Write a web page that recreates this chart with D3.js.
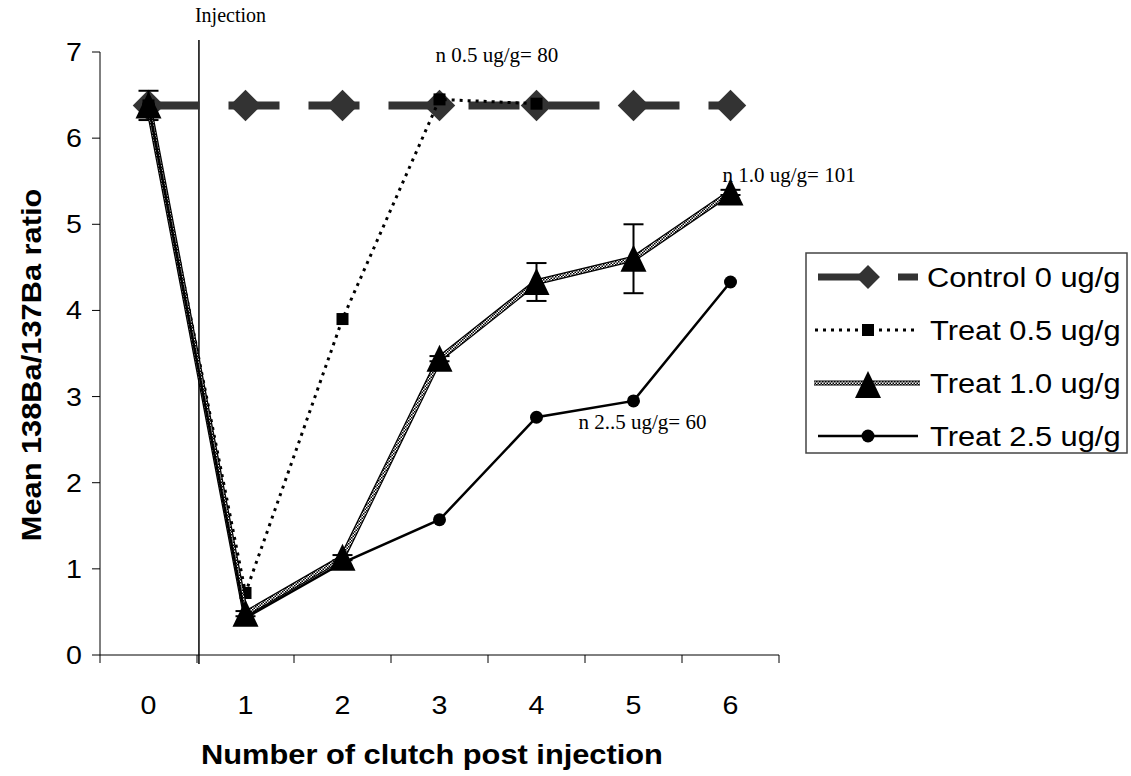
<!DOCTYPE html>
<html>
<head>
<meta charset="utf-8">
<script src="https://d3js.org/d3.v7.min.js"></script>
<style>
	body { margin: 0; background: #fff; }
	text { font-family: "Liberation Sans", Arial, sans-serif; }
	.serif { font-family: "Liberation Serif", "Times New Roman", serif; }
</style>
</head>
<body>
<div id="content"></div>
<script>

// clutch numbers and series
var clutches = [0, 1, 2, 3, 4, 5, 6];
var control = [6.38, 6.38, 6.38, 6.38, 6.38, 6.38, 6.38];
var treat05 = [6.38, 0.72, 3.9, 6.45, 6.4, null, null];
var treat10 = [6.38, 0.48, 1.13, 3.44, 4.33, 4.6, 5.37];
var treat10Err = [0.17, 0.03, 0.03, 0.03, 0.22, 0.4, 0.03];
var treat25 = [6.38, 0.43, 1.07, 1.57, 2.76, 2.95, 4.33];
var yTicks = [0, 1, 2, 3, 4, 5, 6, 7];
var seriesNames = ["Control 0 ug/g", "Treat 0.5 ug/g", "Treat 1.0 ug/g", "Treat 2.5 ug/g"];
var notes = [
	{ text: "n 0.5 ug/g= 80", clutch: 3, value: 6.45 },
	{ text: "n 1.0 ug/g= 101", clutch: 6, value: 5.37 },
	{ text: "n 2..5 ug/g= 60", clutch: 4, value: 2.76 }
];

function main() {
	var { svg, width, height } = initSVG();

	var x = d3.scaleLinear().domain([-0.5, 6.5]).range([100, 779]);
	var y = d3.scaleLinear().domain([0, 7]).range([655, 52]);

	drawAxes(svg, x, y);

	// injection marker between clutch 0 and 1
	svg.append("line")
		.attr("x1", x(0.52)).attr("x2", x(0.52))
		.attr("y1", 40).attr("y2", y(0) + 9)
		.attr("stroke", "#000").attr("stroke-width", 1.5);
	svg.append("text")
		.attr("class", "serif")
		.attr("x", x(0.52) - 4).attr("y", 22)
		.attr("font-size", 20)
		.text("Injection");

	var line = d3.line()
		.defined(function (d) { return d != null; })
		.x(function (d, i) { return x(clutches[i]); })
		.y(function (d) { return y(d); });

	// Control
	svg.append("path")
		.attr("d", line(control))
		.attr("fill", "none")
		.attr("stroke", "#333")
		.attr("stroke-width", 8)
		.attr("stroke-dasharray", "51,29");
	svg.append("g").selectAll("path")
		.data(control)
		.enter().append("path")
		.attr("d", d3.symbol(d3.symbolDiamond2, 300)())
		.attr("transform", function (d, i) { return "translate(" + x(clutches[i]) + "," + y(d) + ") scale(1.45,1.45)"; })
		.attr("fill", "#333");

	// Treat 0.5
	svg.append("path")
		.attr("d", line(treat05))
		.attr("fill", "none")
		.attr("stroke", "#000")
		.attr("stroke-width", 3)
		.attr("stroke-dasharray", "3,5");
	svg.append("g").selectAll("rect")
		.data(treat05.filter(function (d) { return d != null; }))
		.enter().append("rect")
		.attr("x", function (d, i) { return x(clutches[i]) - 6; })
		.attr("y", function (d) { return y(d) - 6; })
		.attr("width", 12).attr("height", 12)
		.attr("fill", "#000");

	// Treat 1.0 error bars
	var errG = svg.append("g").attr("stroke", "#000").attr("stroke-width", 2);
	treat10.forEach(function (d, i) {
		var cx = x(clutches[i]);
		var top = y(d + treat10Err[i]), bot = y(d - treat10Err[i]);
		errG.append("line").attr("x1", cx).attr("x2", cx).attr("y1", top).attr("y2", bot);
		errG.append("line").attr("x1", cx - 10).attr("x2", cx + 10).attr("y1", top).attr("y2", top);
		errG.append("line").attr("x1", cx - 10).attr("x2", cx + 10).attr("y1", bot).attr("y2", bot);
	});

	// Treat 1.0 (checkered line)
	svg.append("path")
		.attr("d", line(treat10))
		.attr("fill", "none")
		.attr("stroke", "#000")
		.attr("stroke-width", 6);
	svg.append("path")
		.attr("d", line(treat10))
		.attr("fill", "none")
		.attr("stroke", "url(#checker)")
		.attr("stroke-width", 3.5);
	svg.append("g").selectAll("path")
		.data(treat10)
		.enter().append("path")
		.attr("d", triangle)
		.attr("transform", function (d, i) { return "translate(" + x(clutches[i]) + "," + y(d) + ")"; })
		.attr("fill", "#000");

	// Treat 2.5
	svg.append("path")
		.attr("d", line(treat25))
		.attr("fill", "none")
		.attr("stroke", "#000")
		.attr("stroke-width", 2.5);
	svg.append("g").selectAll("circle")
		.data(treat25)
		.enter().append("circle")
		.attr("cx", function (d, i) { return x(clutches[i]); })
		.attr("cy", function (d) { return y(d); })
		.attr("r", 6.5)
		.attr("fill", "#000");

	// n annotations
	var noteOffsets = [[-4, -37], [-8, -10], [42, 12]];
	svg.append("g").selectAll("text")
		.data(notes)
		.enter().append("text")
		.attr("class", "serif")
		.attr("font-size", 21)
		.attr("x", function (d, i) { return x(d.clutch) + noteOffsets[i][0]; })
		.attr("y", function (d, i) { return y(d.value) + noteOffsets[i][1]; })
		.text(function (d) { return d.text; });

	drawLegend(svg);
}

// triangle marker centred on the point
function triangle() {
	return "M0,-14L13,13L-13,13Z";
}

function drawAxes(svg, x, y) {
	var g = svg.append("g");

	// y axis
	g.append("line")
		.attr("x1", x(-0.5)).attr("x2", x(-0.5))
		.attr("y1", y(7)).attr("y2", y(0))
		.attr("stroke", "#000");
	g.selectAll(".ytick")
		.data(yTicks)
		.enter().append("line")
		.attr("x1", x(-0.5) - 8).attr("x2", x(-0.5))
		.attr("y1", function (d) { return y(d); })
		.attr("y2", function (d) { return y(d); })
		.attr("stroke", "#000");
	g.selectAll(".ylab")
		.data(yTicks)
		.enter().append("text")
		.attr("text-anchor", "end")
		.attr("font-size", 26)
		.attr("transform", function (d) { return "translate(82," + (y(d) + 9) + ") scale(1.1,1)"; })
		.text(function (d) { return d; });

	// x axis
	g.append("line")
		.attr("x1", x(-0.5)).attr("x2", x(6.5))
		.attr("y1", y(0)).attr("y2", y(0))
		.attr("stroke", "#000");
	g.selectAll(".xtick")
		.data(d3.range(-0.5, 7, 1))
		.enter().append("line")
		.attr("x1", function (d) { return x(d); })
		.attr("x2", function (d) { return x(d); })
		.attr("y1", y(0)).attr("y2", y(0) + 8)
		.attr("stroke", "#000");
	g.selectAll(".xlab")
		.data(clutches)
		.enter().append("text")
		.attr("text-anchor", "middle")
		.attr("font-size", 26)
		.attr("transform", function (d) { return "translate(" + x(d) + ",714) scale(1.1,1)"; })
		.text(function (d) { return d; });

	// titles
	g.append("text")
		.attr("text-anchor", "middle")
		.attr("font-size", 28)
		.attr("font-weight", "bold")
		.attr("transform", "translate(432,764) scale(1.1,1)")
		.text("Number of clutch post injection");
	g.append("text")
		.attr("text-anchor", "middle")
		.attr("font-size", 28)
		.attr("font-weight", "bold")
		.attr("transform", "translate(41,365) rotate(-90) scale(1.1,1)")
		.text("Mean 138Ba/137Ba ratio");
}

function drawLegend(svg) {
	var lg = svg.append("g");
	lg.append("rect")
		.attr("x", 806).attr("y", 253)
		.attr("width", 321).attr("height", 200)
		.attr("fill", "#fff")
		.attr("stroke", "#444")
		.attr("stroke-width", 1.5);

	var rowY = d3.scalePoint().domain(seriesNames).range([277, 436]);
	var x0 = 818, x1 = 918, xm = 868;

	seriesNames.forEach(function (name, i) {
		var yy = rowY(name);
		var ln = lg.append("line")
			.attr("x1", x0).attr("x2", x1)
			.attr("y1", yy).attr("y2", yy);
		if (i == 0) {
			ln.attr("stroke", "#333").attr("stroke-width", 7).attr("stroke-dasharray", "51,29");
			lg.append("path")
				.attr("d", d3.symbol(d3.symbolDiamond2, 300)())
				.attr("transform", "translate(" + xm + "," + yy + ") scale(1.1,1.1)")
				.attr("fill", "#333");
		} else if (i == 1) {
			ln.attr("stroke", "#000").attr("stroke-width", 3).attr("stroke-dasharray", "3,5").attr("x1", x0 - 3);
			lg.append("rect")
				.attr("x", xm - 6).attr("y", yy - 6)
				.attr("width", 12).attr("height", 12)
				.attr("fill", "#000");
		} else if (i == 2) {
			ln.attr("stroke", "#000").attr("stroke-width", 5).attr("x1", x0 - 4).attr("x2", x1 + 2);
			lg.append("line")
				.attr("x1", x0 - 4).attr("x2", x1 + 2)
				.attr("y1", yy).attr("y2", yy)
				.attr("stroke", "url(#checker)").attr("stroke-width", 3);
			lg.append("path")
				.attr("d", triangle)
				.attr("transform", "translate(" + xm + "," + (yy + 2) + ")")
				.attr("fill", "#000");
		} else {
			ln.attr("stroke", "#000").attr("stroke-width", 2.5);
			lg.append("circle")
				.attr("cx", xm).attr("cy", yy)
				.attr("r", 6.5)
				.attr("fill", "#000");
		}
		lg.append("text")
			.attr("font-size", 28)
			.attr("transform", "translate(" + (i == 0 ? 927 : 930) + "," + (yy + 10) + ") scale(1.1,1)")
			.text(name);
	});
}

function initSVG() {
	var width = 1131;
	var height = 776;

	var svg = d3.select("#content")
		.append("svg")
		.attr("width", width)
		.attr("height", height);

	// checker pattern used for the Treat 1.0 line
	var pat = svg.append("defs").append("pattern")
		.attr("id", "checker")
		.attr("patternUnits", "userSpaceOnUse")
		.attr("width", 3).attr("height", 3);
	pat.append("rect").attr("width", 3).attr("height", 3).attr("fill", "#fff");
	pat.append("rect").attr("width", 1.5).attr("height", 1.5).attr("fill", "#000");
	pat.append("rect").attr("x", 1.5).attr("y", 1.5).attr("width", 1.5).attr("height", 1.5).attr("fill", "#000");

	return { svg, width, height };
}

(() => {
	main();
})()
</script>
</body>
</html>
